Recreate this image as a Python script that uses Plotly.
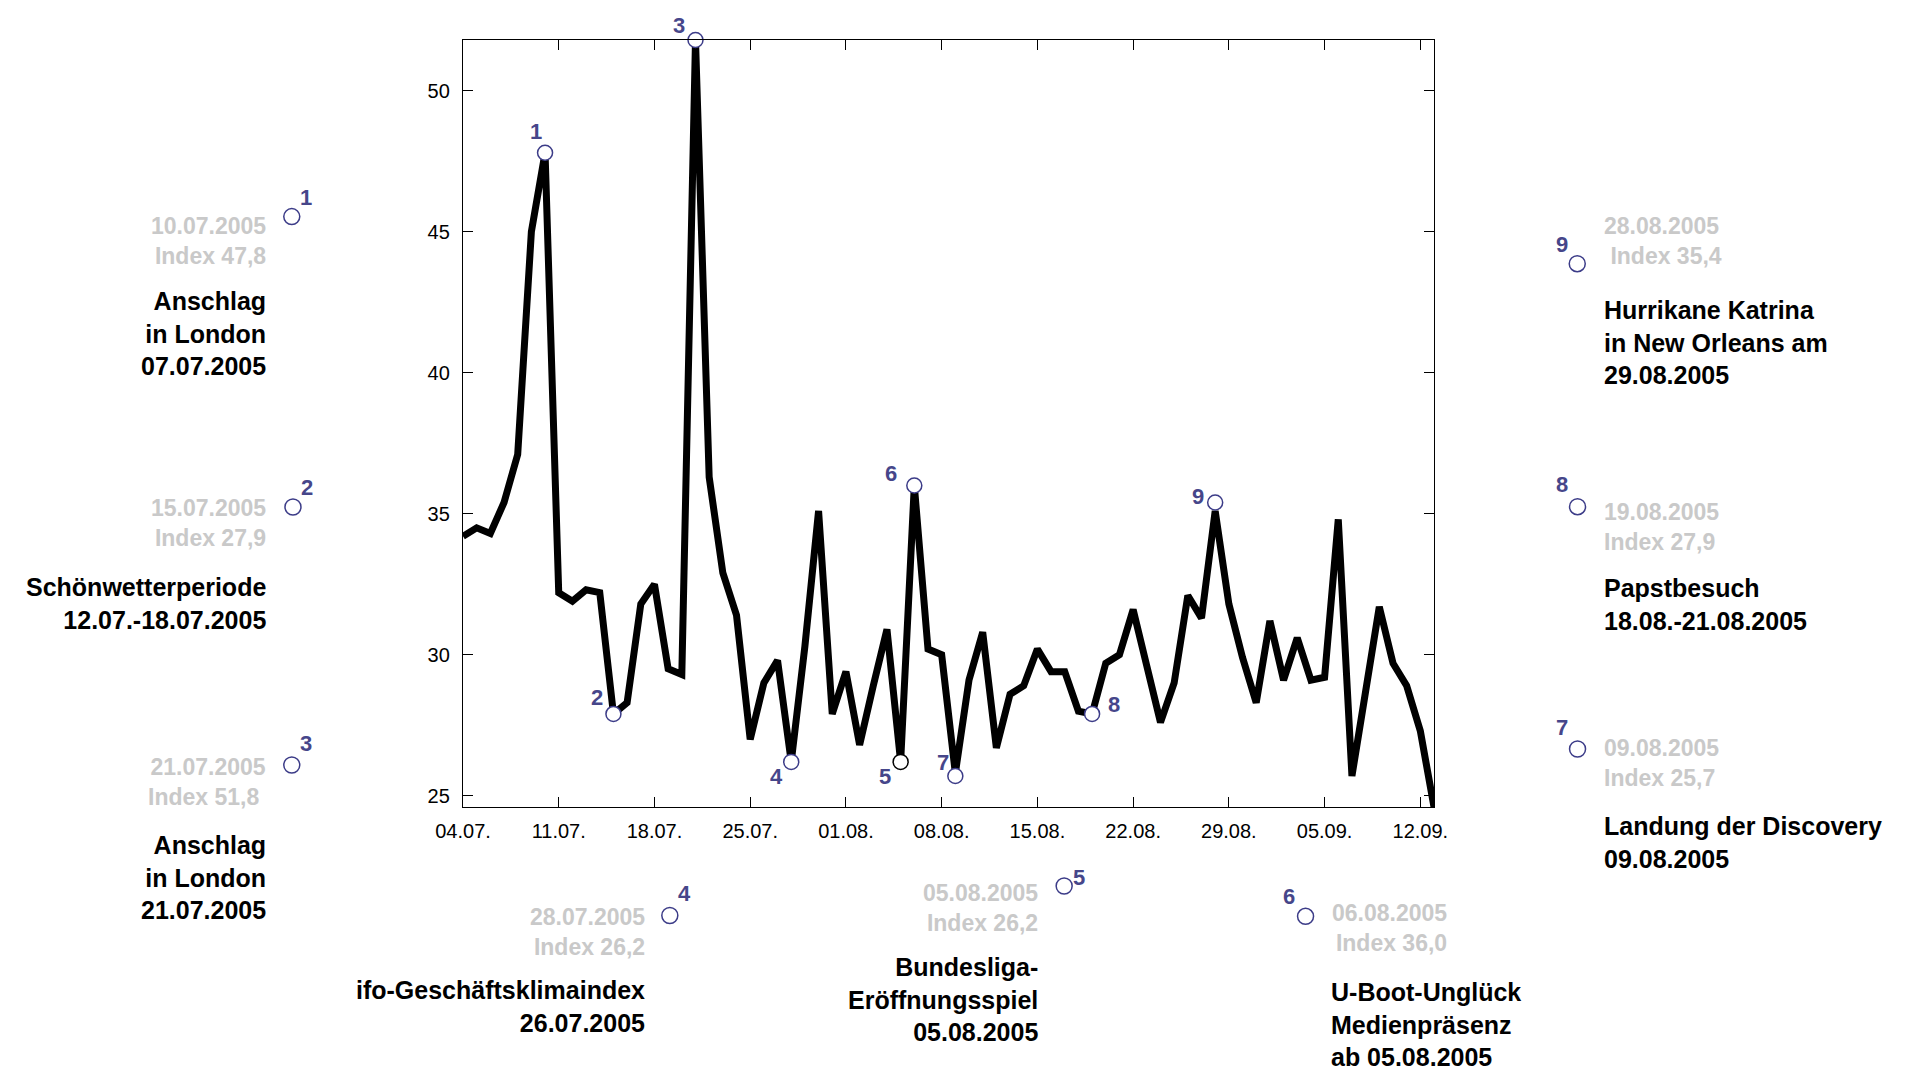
import plotly.graph_objects as go
import pandas as pd

# ---------------- data ----------------
start_date = "2005-07-04"
index_values = [
    34.2, 34.5, 34.3, 35.4, 37.1, 45.0, 47.8, 32.2, 31.9, 32.3,
    32.2, 27.9, 28.3, 31.8, 32.5, 29.5, 29.3, 51.8, 36.3, 32.9,
    31.4, 27.0, 29.0, 29.8, 26.2, 30.3, 35.1, 27.9, 29.4, 26.8,
    28.9, 30.9, 26.2, 36.0, 30.2, 30.0, 25.8, 29.1, 30.8, 26.7,
    28.6, 28.9, 30.2, 29.4, 29.4, 28.0, 27.9, 29.7, 30.0, 31.6,
    29.6, 27.6, 29.0, 32.1, 31.3, 35.1, 31.8, 29.9, 28.3, 31.2,
    29.1, 30.6, 29.1, 29.2, 34.8, 25.7, 28.7, 31.7, 29.7, 28.9,
    27.3, 24.6,
]
dates = pd.date_range(start_date, periods=len(index_values), freq="D")

tick_dates = ["2005-07-04", "2005-07-11", "2005-07-18", "2005-07-25", "2005-08-01",
              "2005-08-08", "2005-08-15", "2005-08-22", "2005-08-29", "2005-09-05",
              "2005-09-12"]
tick_labels = ["04.07.", "11.07.", "18.07.", "25.07.", "01.08.", "08.08.",
               "15.08.", "22.08.", "29.08.", "05.09.", "12.09."]
y_ticks = [25, 30, 35, 40, 45, 50]

event_numbers = [1, 2, 3, 4, 5, 6, 7, 8, 9]
event_dates = ["2005-07-10", "2005-07-15", "2005-07-21", "2005-07-28", "2005-08-05",
               "2005-08-06", "2005-08-09", "2005-08-19", "2005-08-28"]
event_values = [47.8, 27.9, 51.8, 26.2, 26.2, 36.0, 25.7, 27.9, 35.4]
event_titles = [
    "Anschlag<br>in London<br>07.07.2005",
    "Schönwetterperiode<br>12.07.-18.07.2005",
    "Anschlag<br>in London<br>21.07.2005",
    "ifo-Geschäftsklimaindex<br>26.07.2005",
    "Bundesliga-<br>Eröffnungsspiel<br>05.08.2005",
    "U-Boot-Unglück<br>Medienpräsenz<br>ab 05.08.2005",
    "Landung der Discovery<br>09.08.2005",
    "Papstbesuch<br>18.08.-21.08.2005",
    "Hurrikane Katrina<br>in New Orleans am<br>29.08.2005",
]

# ---------------- layout / style ----------------
W, H = 1919, 1072
PL, PR, PT, PB = 462.6, 1434.0, 40.0, 807.0
FONT = "Liberation Sans, Arial, Helvetica, sans-serif"
BLUE = "#46468a"
CIRCLE = "#3c3c88"
GRAY = "#c9c9c9"


def px_x(px):
    return (px - PL) / (PR - PL)


def px_y(py):
    return (PB - py) / (PB - PT)


# label offsets of the in-plot numbers (pixels, relative to the marker)
num_offsets = [(-9, 21), (-16, 16), (-16, 15), (-15, -15), (-16, -15),
               (-23, 12), (-12, 13), (22, 9), (-17, 6)]
marker_line_colors = [CIRCLE, CIRCLE, CIRCLE, CIRCLE, "black", CIRCLE, CIRCLE, CIRCLE, CIRCLE]

# external blocks: circle, number, gray text (x, y, anchor), black text (x, y, anchor)
blocks = [
    dict(c=(291.3, 216.6), n=(306, 197), g=(268, 241, "right"), b=(268, 333, "right")),
    dict(c=(292.5, 507), n=(306.5, 487), g=(268, 523, "right"), b=(268, 603, "right")),
    dict(c=(291.3, 765), n=(306, 743), g=(268, 782, "right"), b=(268, 877.5, "right")),
    dict(c=(669.5, 915.5), n=(684, 893.5), g=(647, 932, "right"), b=(647, 1006.5, "right")),
    dict(c=(1064, 886), n=(1079, 877), g=(1039.5, 908, "right"), b=(1039.5, 999, "right")),
    dict(c=(1305.5, 916.3), n=(1289, 896), g=(1449, 928, "right"), b=(1329.3, 1024, "left")),
    dict(c=(1577.6, 749), n=(1561.7, 727), g=(1602, 762.5, "left"), b=(1602, 842, "left")),
    dict(c=(1577.6, 506.7), n=(1561.7, 484.7), g=(1602, 527, "left"), b=(1602, 604.6, "left")),
    dict(c=(1577.3, 263.7), n=(1561.7, 244.7), g=(1602, 241, "left"), b=(1602, 342.4, "left")),
]


def gray_text(date, value):
    d = pd.Timestamp(date)
    v = f"{value:.1f}".replace(".", ",")
    return f"{d:%d.%m.%Y}<br>Index {v}"


fig = go.Figure()

fig.add_trace(go.Scatter(
    x=dates, y=index_values, mode="lines",
    line=dict(color="black", width=7),
    hoverinfo="skip",
))

fig.add_trace(go.Scatter(
    x=pd.to_datetime(event_dates), y=event_values, mode="markers",
    marker=dict(symbol="circle", size=15, color="white",
                line=dict(color=marker_line_colors, width=1.5)),
    cliponaxis=False, hoverinfo="skip",
))

annotations = []
shapes = []

for i, num in enumerate(event_numbers):
    dx, dy = num_offsets[i]
    annotations.append(dict(
        x=pd.Timestamp(event_dates[i]), y=event_values[i], xref="x", yref="y",
        text=f"<b>{num}</b>", showarrow=False, xshift=dx, yshift=dy,
        font=dict(family=FONT, size=22, color=BLUE),
    ))
    blk = blocks[i]
    cx, cy = blk["c"]
    shapes.append(dict(
        type="circle", xref="paper", yref="paper",
        xsizemode="pixel", ysizemode="pixel",
        xanchor=px_x(cx), yanchor=px_y(cy),
        x0=-8, x1=8, y0=-8, y1=8,
        line=dict(color=CIRCLE, width=1.5), fillcolor="rgba(0,0,0,0)",
    ))
    nx, ny = blk["n"]
    annotations.append(dict(
        x=px_x(nx), y=px_y(ny), xref="paper", yref="paper",
        text=f"<b>{num}</b>", showarrow=False, xanchor="center", yanchor="middle",
        font=dict(family=FONT, size=22, color=BLUE),
    ))
    gx, gy, ga = blk["g"]
    gt = gray_text(event_dates[i], event_values[i])
    if i == 2:
        gt = gt + "\u00a0"
    if i == 8:
        gt = gt.replace("<br>", "<br>\u00a0")
    annotations.append(dict(
        x=px_x(gx), y=px_y(gy), xref="paper", yref="paper",
        text=f"<b>{gt}</b>", showarrow=False, xanchor=ga, yanchor="middle", align=ga,
        font=dict(family=FONT, size=23, color=GRAY),
    ))
    bx, by, ba = blk["b"]
    annotations.append(dict(
        x=px_x(bx), y=px_y(by), xref="paper", yref="paper",
        text=f"<b>{event_titles[i]}</b>", showarrow=False, xanchor=ba, yanchor="middle", align=ba,
        font=dict(family=FONT, size=25, color="black"),
    ))

axis_common = dict(
    showline=True, linecolor="black", linewidth=1.3, mirror="ticks",
    ticks="inside", ticklen=10, tickwidth=1.3, tickcolor="black",
    showgrid=False, zeroline=False,
    tickfont=dict(family=FONT, size=20, color="black"),
)

fig.update_layout(
    width=W, height=H,
    margin=dict(l=PL, r=W - PR, t=PT, b=H - PB, pad=0),
    paper_bgcolor="white", plot_bgcolor="white",
    showlegend=False,
    xaxis=dict(type="date", range=[dates[0], dates[-1]],
               tickvals=pd.to_datetime(tick_dates), ticktext=tick_labels,
               ticklabelstandoff=6, **axis_common),
    yaxis=dict(range=[min(index_values), max(index_values)], tickvals=y_ticks,
               ticklabelstandoff=8, **axis_common),
    annotations=annotations,
    shapes=shapes,
)

fig.write_html("out.html",
               config={"displayModeBar": False},
               post_script="document.body.style.margin='0';document.body.style.overflow='hidden';")
